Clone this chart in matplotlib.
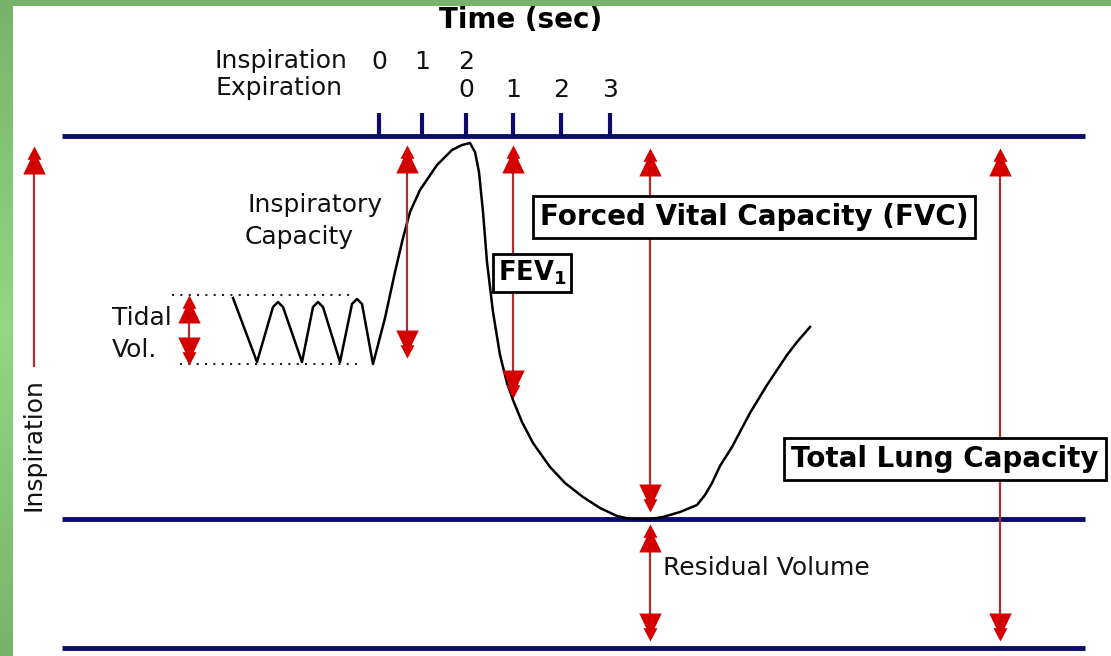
import numpy as np
import matplotlib.pyplot as plt
from matplotlib.patches import Rectangle

# canvas in pixel units (y grows downwards)
W, H = 1111, 656

# time axis ticks and labels
tick_x = [379, 422, 466, 513, 561, 610]
insp_labels = ["0", "1", "2"]
insp_x = [379, 422, 466]
exp_labels = ["0", "1", "2", "3"]
exp_x = [466, 513, 561, 610]

# lung volume levels: TLC, residual volume, zero
level_y = [136, 519, 648]

# spirogram trace: tidal breaths, max inspiration, forced expiration, recovery
curve_x = [233, 257, 273, 278, 283, 302, 313, 318, 323, 340, 352, 357, 362, 373,
           385, 395, 403, 410, 420, 437, 452, 462, 470,
           475, 479, 483, 487, 493, 500, 507, 513,
           522, 533, 550, 565, 583, 600, 617, 630,
           650, 663, 680, 697, 705, 712, 720, 732, 741,
           750, 767, 787, 797, 810]
curve_y = [298, 362, 307, 302, 307, 362, 307, 302, 307, 362, 304, 299, 304, 364,
           318, 272, 238, 212, 190, 165, 150, 145, 143,
           152, 172, 212, 262, 312, 355, 383, 400,
           422, 443, 467, 483, 497, 508, 516, 519,
           519, 517, 512, 505, 495, 483, 466, 447, 430,
           413, 385, 355, 342, 327]

# tidal volume band
tidal_top, tidal_bot = 295, 364

# double arrows: x, top tip, bottom tip, has bottom head
arrow_x = [34, 407, 513, 650, 650, 1000, 189]
arrow_top = [146, 145, 145, 148, 524, 148, 295]
arrow_bot = [366, 358, 398, 512, 641, 641, 365]
arrow_down = [False, True, True, True, True, True, True]

fig = plt.figure(figsize=(W / 100, H / 100), dpi=100)
ax = fig.add_axes([0, 0, 1, 1])
ax.set_xlim(0, W)
ax.set_ylim(H, 0)
ax.axis("off")

# green frame
grad = np.linspace(0, 1, 200)
grad = 1 - np.abs(grad - 0.5) * 2
top_c = np.array([0.47, 0.70, 0.42])
mid_c = np.array([0.58, 0.84, 0.52])
img = top_c + (mid_c - top_c) * grad[:, None]
ax.imshow(img[:, None, :], extent=(0, 13, H, 0), aspect="auto", zorder=5)
ax.add_patch(Rectangle((0, 0), W, 6, color="#77b36a", zorder=5, lw=0))
ax.set_xlim(0, W)
ax.set_ylim(H, 0)

navy = "#0b0b6e"
ax.hlines(level_y, 62, 1085, color=navy, lw=3.5, zorder=2)
ax.vlines(tick_x, 113, 136, color=navy, lw=3, zorder=2)

reg = dict(fontsize=18, color="#111111", family="DejaVu Sans")
bold = dict(fontsize=20, color="#000000", family="DejaVu Sans", fontweight="bold")

ax.text(521, 20, "Time (sec)", ha="center", va="center", **bold)
for lab, x in zip(insp_labels, insp_x):
    ax.text(x, 62, lab, ha="center", va="center", **reg)
for lab, x in zip(exp_labels, exp_x):
    ax.text(x, 90, lab, ha="center", va="center", **reg)
ax.text(347, 61, "Inspiration", ha="right", va="center", **reg)
ax.text(342, 88, "Expiration", ha="right", va="center", **reg)

# dotted tidal band
ax.hlines([tidal_top, tidal_bot], [172, 180], [350, 357], color="#222222",
          lw=1.5, linestyles=(0, (1, 3)), zorder=2)

# trace
ax.plot(curve_x, curve_y, color="black", lw=1.8, zorder=3)

# arrows
head = [(0, 1), (-0.5, 0.05), (-0.3, 0.05), (-0.8, -1), (0.8, -1),
        (0.3, 0.05), (0.5, 0.05), (0, 1)]
head_dn = [(x, -y) for x, y in head]
hs = 28  # px
for x, yt, yb, dn in zip(arrow_x, arrow_top, arrow_bot, arrow_down):
    ax.plot([x, x], [yt + 10, yb - (10 if dn else 0)], color="#a83232", lw=1.6, zorder=3)
    ax.plot(x, yt + hs / 2, marker=head, ms=hs * 0.72, color="#d40000", mew=0, zorder=4)
    if dn:
        ax.plot(x, yb - hs / 2, marker=head_dn, ms=hs * 0.72, color="#d40000", mew=0, zorder=4)

# labels
ax.text(33, 445, "Inspiration", rotation=90, ha="center", va="center",
        bbox=dict(fc="white", ec="none", pad=1), zorder=4, **reg)
ax.text(247, 205, "Inspiratory", ha="left", va="center", **reg)
ax.text(245, 237, "Capacity", ha="left", va="center", **reg)
ax.text(112, 318, "Tidal", ha="left", va="center", **reg)
ax.text(112, 350, "Vol.", ha="left", va="center", **reg)
ax.text(663, 568, "Residual Volume", ha="left", va="center", **reg)

box = dict(boxstyle="square,pad=0.25", fc="white", ec="black", lw=2)
ax.text(754, 217, "Forced Vital Capacity (FVC)", ha="center", va="center",
        bbox=box, zorder=6, **bold)
ax.text(532, 273, r"FEV$_\mathbf{1}$", ha="center", va="center",
        bbox=dict(boxstyle="square,pad=0.2", fc="white", ec="black", lw=2),
        zorder=6, **dict(bold, fontsize=18.5))
ax.text(945, 459, "Total Lung Capacity", ha="center", va="center",
        bbox=box, zorder=6, **bold)

fig.savefig("out.png", dpi=100)
